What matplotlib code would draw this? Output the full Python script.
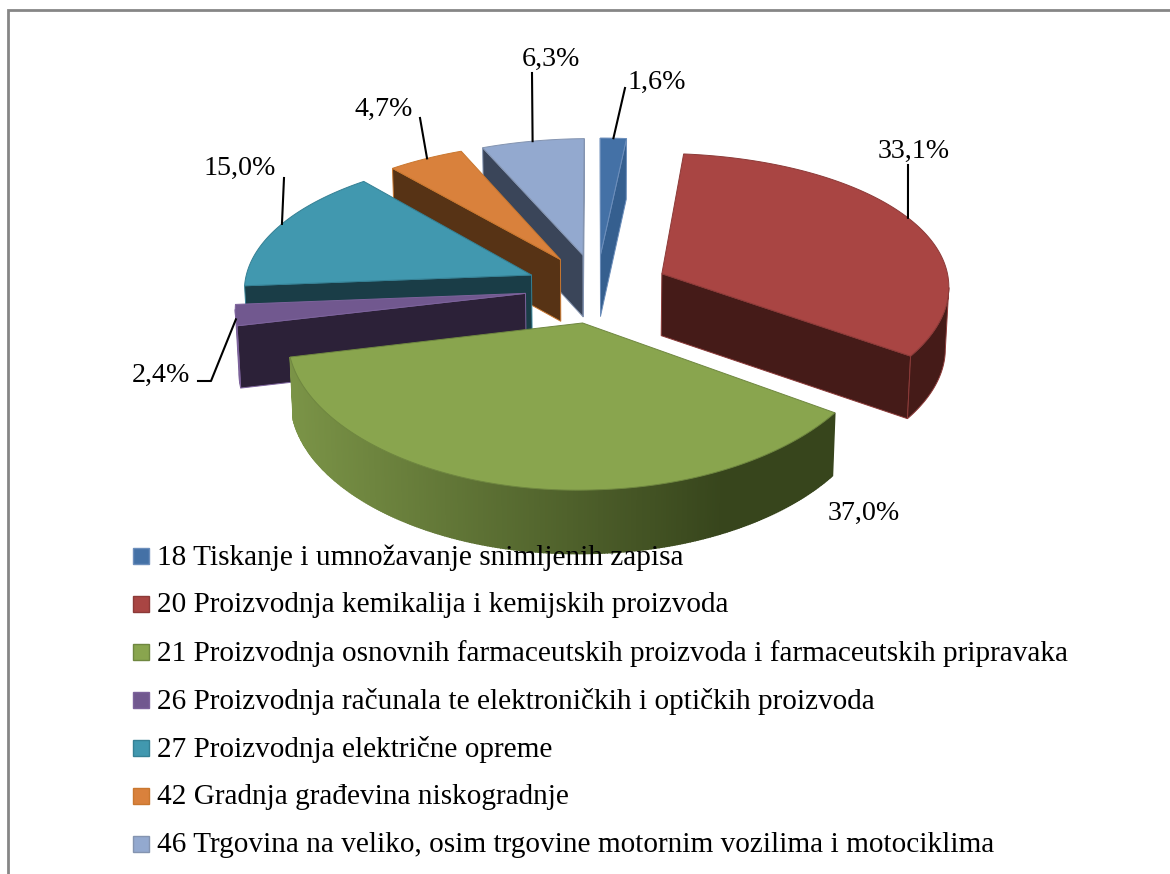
import numpy as np
import matplotlib
matplotlib.use("Agg")
import matplotlib.pyplot as plt
from matplotlib.patches import Polygon, Rectangle
from matplotlib.colors import to_rgb

# ---------- data ----------
categories = [
    "18 Tiskanje i umnožavanje snimljenih zapisa",
    "20 Proizvodnja kemikalija i kemijskih proizvoda",
    "21 Proizvodnja osnovnih farmaceutskih proizvoda i farmaceutskih pripravaka",
    "26 Proizvodnja računala te elektroničkih i optičkih proizvoda",
    "27 Proizvodnja električne opreme",
    "42 Gradnja građevina niskogradnje",
    "46 Trgovina na veliko, osim trgovine motornim vozilima i motociklima",
]
shares = [1.6, 33.1, 37.0, 2.4, 15.0, 4.7, 6.3]

# ---------- style ----------
top_colors = ["#4471A6", "#A94543", "#89A54E", "#71588F", "#4198AF", "#D9813C", "#93A9CF"]
face_colors = ["#355F8F", "#451B18", "#566B30", "#2C2138", "#1A3D47", "#573315", "#3A4559"]
edge_colors = ["#6C8EBB", "#8C3A38", "#6F8740", "#7D639C", "#358094", "#C9772F", "#8494B0"]
draw_order = [6, 0, 5, 4, 3, 1, 2]

CX, CY = 597, 288      # pie centre on the canvas
RX, RY = 288, 138      # plane to screen scale
PERSP_X, PERSP_Y = 0.08, 0.12   # perspective foreshortening
DEPTH = 62             # thickness of the pie
BOTTOM_SCALE = 0.99    # the lower rim recedes slightly towards the centre
LEFT_SAG = 2.5         # the view is tilted a little, left side lower
EXPLODE = 0.25

plt.rcParams["font.family"] = ["Liberation Serif", "DejaVu Serif"]
fig = plt.figure(figsize=(11.7, 8.74), dpi=100)
ax = fig.add_axes([0, 0, 1, 1])
ax.set_xlim(0, 1170)
ax.set_ylim(874, 0)
ax.axis("off")

# chart frame: only left and top are inside the crop
ax.plot([8, 8, 1170], [874, 10, 10], color="#868686", lw=2.0, zorder=1,
        solid_joinstyle="miter")

fractions = np.array(shares) / sum(shares)
ends = np.cumsum(fractions) * 2 * np.pi
starts = ends - fractions * 2 * np.pi


def project(u, v, drop=0.0):
    sx = 1.0 / (1.0 + PERSP_X * v)
    sy = 1.0 / (1.0 + PERSP_Y * v)
    x = RX * u * sx
    if drop:
        x *= BOTTOM_SCALE
    return np.array([CX + x, CY - RY * v * sy + drop * sy ** 0.15 + LEFT_SAG * max(-u, 0.0)])


def wedge_point(i, theta, r=1.0, drop=0.0):
    mid = (starts[i] + ends[i]) / 2
    u0, v0 = EXPLODE * np.sin(mid), EXPLODE * np.cos(mid)
    return project(u0 + r * np.sin(theta), v0 + r * np.cos(theta), drop)


def cross(a, b):
    return a[0] * b[1] - a[1] * b[0]


def faces_viewer(p, q, inner):
    """The side below edge pq shows if the drop points away from the top face."""
    e = q - p
    return cross(e, (0, 1)) * cross(e, inner - p) < 0


def blend(c1, c2, t):
    a, b = np.array(to_rgb(c1)), np.array(to_rgb(c2))
    return tuple(a + (b - a) * t)


z = 2
for i in draw_order:
    n = max(int(fractions[i] * 720), 8)
    th = np.linspace(starts[i], ends[i], n + 1)
    apex = wedge_point(i, 0, r=0)
    arc = np.array([wedge_point(i, t) for t in th])
    arc_low = np.array([wedge_point(i, t, drop=DEPTH) for t in th])
    centre = (apex + arc.sum(axis=0) / len(arc) * 2) / 3
    apex_low = wedge_point(i, 0, r=0, drop=DEPTH)

    # radial faces
    for p, q in ((arc[0], arc_low[0]), (arc[-1], arc_low[-1])):
        if faces_viewer(apex, p, centre):
            ax.add_patch(Polygon([apex, p, q, apex_low], closed=True, fc=face_colors[i],
                                 ec=edge_colors[i], lw=0.7, zorder=z))
            z += 1
    # rim: gradient on the large front slice, flat elsewhere
    visible = [k for k in range(n) if faces_viewer(arc[k], arc[k + 1], centre)]
    if i == 2:
        for k in reversed(visible):
            t = (arc[k][0] - arc[:, 0].min()) / np.ptp(arc[:, 0])
            col = blend("#7B9447", "#37451C", min(t / 0.8, 1.0))
            ax.add_patch(Polygon([arc[k], arc[k + 1], arc_low[k + 1], arc_low[k]], closed=True,
                                 fc=col, ec=col, lw=1.0, zorder=z))
            z += 1
    elif visible:
        idx = visible + [visible[-1] + 1]
        ax.add_patch(Polygon(np.vstack([arc[idx], arc_low[idx][::-1]]), closed=True,
                             fc=face_colors[i], ec=edge_colors[i], lw=0.7, zorder=z))
        z += 1
    # top
    ax.add_patch(Polygon(np.vstack([apex, arc]), closed=True, fc=top_colors[i],
                         ec=edge_colors[i], lw=0.7, zorder=z + 1))
    z += 2

# ---------- data labels ----------
label_text = [f"{v:.1f}%".replace(".", ",") for v in shares]
label_xy = [(657, 82), (914, 151), (864, 513), (161, 375), (240, 168), (384, 109), (551, 59)]
leader_bend = [[(625, 88)], [(908, 165)], [], [(211, 381), (198, 381)], [(284, 178)],
               [(420, 118)], [(532, 73)]]
leader_angle = [0.5, 0.49, None, 0.3, 0.52, 0.52, 0.5]  # position along each slice's rim

for i, txt in enumerate(label_text):
    ax.text(*label_xy[i], txt, ha="center", va="center", fontsize=20.2, color="black", zorder=5000)
    if leader_angle[i] is None:
        continue
    theta = starts[i] + (ends[i] - starts[i]) * leader_angle[i]
    pts = np.vstack([wedge_point(i, theta), leader_bend[i]])
    ax.plot(pts[:, 0], pts[:, 1], color="black", lw=1.5, zorder=4999)

# ---------- legend ----------
row_y = 556
for i, name in enumerate(categories):
    y = row_y + 48 * i
    ax.add_patch(Rectangle((133, y - 8), 16, 16, fc=top_colors[i], ec=edge_colors[i], lw=1.0,
                           zorder=5000))
    ax.text(157, y + 1.5, name, ha="left", va="center", fontsize=21.1, color="black", zorder=5001)

fig.savefig("out.png", dpi=100)
